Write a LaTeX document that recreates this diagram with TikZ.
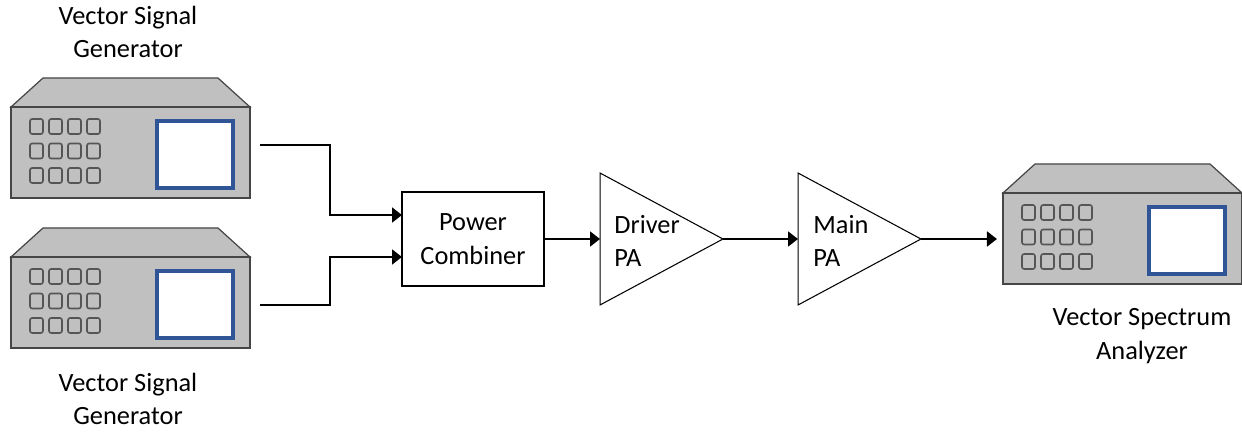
\documentclass[tikz,border=0pt]{standalone}
\usepackage{fontspec}
\setmainfont{Carlito}
\usetikzlibrary{arrows.meta,shapes.geometric}

\definecolor{casegray}{RGB}{192,192,192}
\definecolor{edgegray}{RGB}{70,70,70}
\definecolor{keygray}{RGB}{85,85,85}
\definecolor{screenblue}{RGB}{47,85,151}

\tikzset{
  lbl/.style={align=center,font=\fontsize{15}{19}\selectfont},
  sig/.style={line width=1.2pt,-{Triangle[length=5.7pt,width=8.5pt]}},
  block/.style={draw,line width=0.7pt,minimum width=2.84cm,minimum height=1.88cm,inner sep=0pt,outer sep=0pt,lbl},
  amp/.style={draw,line width=0.6pt,isosceles triangle,isosceles triangle stretches,shape border rotate=0,
    minimum width=2.64cm,minimum height=2.46cm,inner sep=0pt,outer sep=0pt},
  % bench instrument, origin at top-left corner of the front panel
  instrument/.pic={
    \filldraw[fill=casegray,draw=edgegray,line width=0.7pt] (0,0) -- (32,-29) -- (207,-29) -- (239,0) -- cycle;
    \filldraw[fill=casegray,draw=edgegray,line width=0.7pt] (0,0) rectangle (239,91);
    \foreach \i in {0,...,3}
      \foreach \j in {0,1,2}
        \draw[keygray,line width=0.9pt,rounded corners=1.2pt] (19+19*\i,12+24.5*\j) rectangle ++(13,15);
    \filldraw[fill=white,draw=screenblue,line width=2.2pt] (146,14) rectangle (222,81);
  }
}

\begin{document}
\begin{tikzpicture}[x=0.02cm,y=-0.02cm]
\useasboundingbox (0,0) rectangle (1242,432);

% signal generators and analyzer
\pic at (11,107) {instrument};
\pic at (11,257) {instrument};
\pic at (1003,193) {instrument};
\node[lbl] (sgtop label) at (128,32) {Vector Signal\\Generator};
\node[lbl] (sgbot label) at (128,399) {Vector Signal\\Generator};
\node[lbl] (vsa label) at (1142,336) {Vector Spectrum\\Analyzer};

\coordinate (sgtop out) at (260,145);
\coordinate (sgbot out) at (260,305);
\coordinate (vsa in) at (997,239);

% combiner and amplifier chain
\node[block] (comb) at (473,239) {Power\\Combiner};
\node[amp,anchor=apex] (drv) at (723,239) {};
\node[amp,anchor=apex] (mpa) at (921,239) {};
\node[lbl,align=left,anchor=west,inner sep=0pt] (drv text) at (614,241) {Driver\\PA};
\node[lbl,align=left,anchor=west,inner sep=0pt] (mpa text) at (813,241) {Main\\PA};

\draw[sig] (sgtop out) -- ++(70,0) |- ([yshift=0.48cm]comb.west);
\draw[sig] (sgbot out) -- ++(70,0) |- ([yshift=-0.36cm]comb.west);
\draw[sig] (comb.east) -- (drv.lower side);
\draw[sig] (drv.apex) -- (mpa.lower side);
\draw[sig] (mpa.apex) -- (vsa in);
\end{tikzpicture}
\end{document}
